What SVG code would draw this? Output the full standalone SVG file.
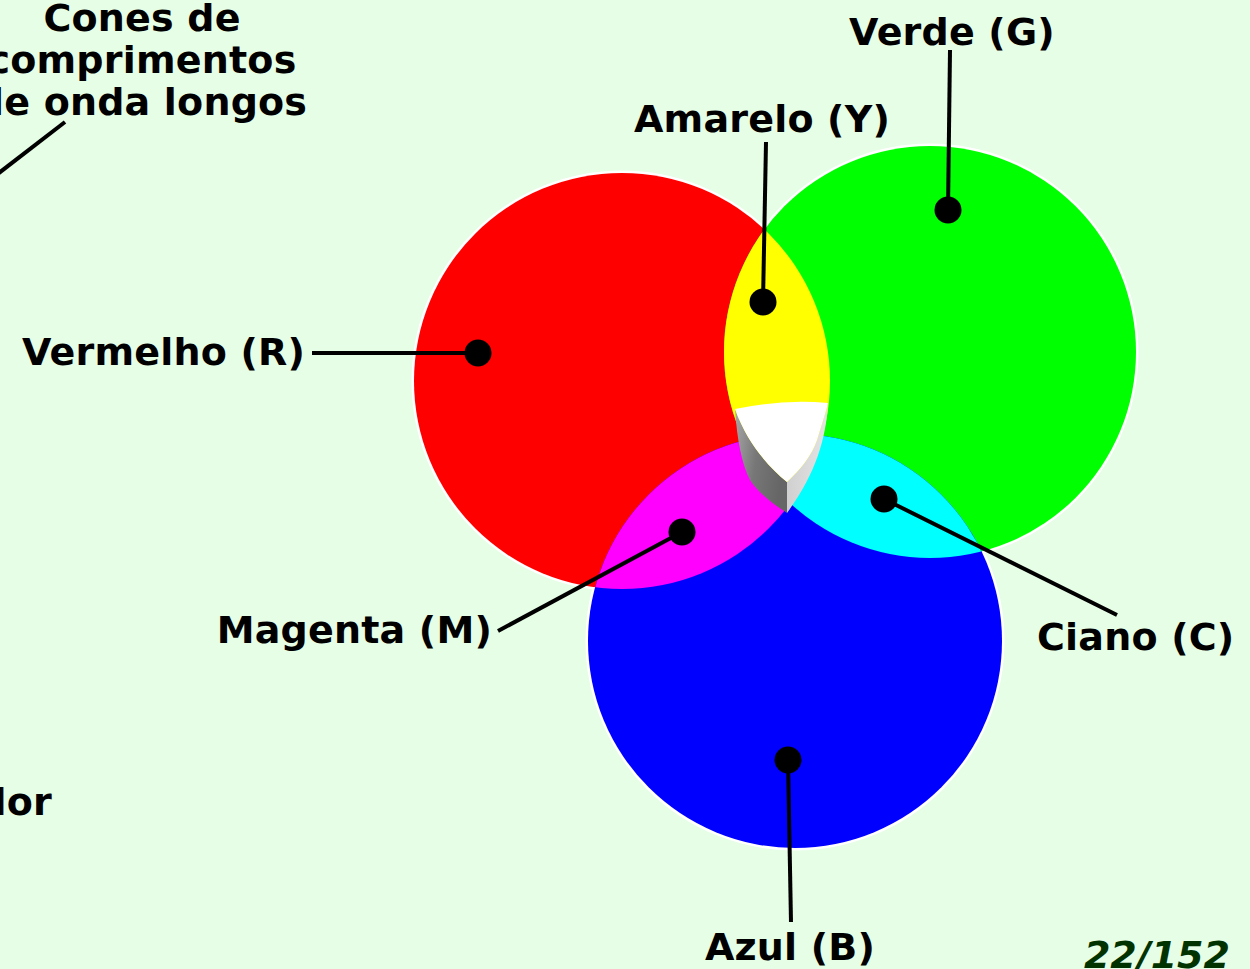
<svg xmlns="http://www.w3.org/2000/svg" width="1250" height="969" viewBox="0 0 1250 969">
<style>
.t{font-family:"DejaVu Sans","Liberation Sans",sans-serif;font-weight:bold;font-size:38px;fill:#000;letter-spacing:0.2px}
.ln{stroke:#000;stroke-width:4;fill:none}
.dot{fill:#000}
</style>
<defs>
<clipPath id="cR"><circle cx="622" cy="381" r="208"/></clipPath>
<clipPath id="cG"><circle cx="930" cy="352" r="206"/></clipPath>
<linearGradient id="gL" x1="0" y1="0" x2="1" y2="0.3">
<stop offset="0" stop-color="#a8a8a8"/><stop offset="0.5" stop-color="#777"/><stop offset="1" stop-color="#666"/>
</linearGradient>
<linearGradient id="gR" x1="0" y1="0" x2="1" y2="0">
<stop offset="0" stop-color="#d0d0d0"/><stop offset="1" stop-color="#e4e4e4"/>
</linearGradient>
</defs>
<rect width="1250" height="969" fill="#e6fde6"/>
<g id="halo" fill="#fff" stroke="#fff" stroke-width="5">
<circle cx="622" cy="381" r="208"/>
<circle cx="930" cy="352" r="206"/>
<circle cx="795" cy="641" r="207"/>
</g>
<g id="red"><circle cx="622" cy="381" r="208" fill="#ff0000"/></g>
<g id="green"><circle cx="930" cy="352" r="206" fill="#00ff00"/></g>
<g id="blue"><circle cx="795" cy="641" r="207" fill="#0000ff"/></g>
<g id="magenta" clip-path="url(#cR)"><circle cx="795" cy="641" r="207" fill="#ff00ff"/></g>
<g id="cyan" clip-path="url(#cG)"><circle cx="795" cy="641" r="207" fill="#00ffff"/></g>
<g id="yellow" clip-path="url(#cR)"><g clip-path="url(#cG)">
<rect x="690" y="200" width="180" height="400" fill="#ffff00"/>
</g></g>
<g id="white">
<path d="M735,409 C737,440 742,465 750,480 C760,495 775,505 787,513 L787,482 C770,468 748,445 735,409 Z" fill="url(#gL)"/>
<path d="M828,403 C826,440 815,475 787,513 L787,482 C800,470 812,455 817,440 C820,430 824,418 828,403 Z" fill="url(#gR)"/>
<path d="M735,409 Q782,399 828,403 C824,418 820,430 817,440 C812,455 800,470 787,482 C770,468 748,445 735,409 Z" fill="#fff"/>
</g>
<g id="connectors">
<line class="ln" x1="950" y1="50" x2="948" y2="210"/>
<line class="ln" x1="766" y1="142" x2="763" y2="302"/>
<line class="ln" x1="312" y1="353" x2="478" y2="353"/>
<line class="ln" x1="498" y1="631" x2="682" y2="532"/>
<line class="ln" x1="884" y1="499" x2="1117" y2="615"/>
<line class="ln" x1="788" y1="760" x2="791" y2="922"/>
<line class="ln" x1="65" y1="122" x2="-5" y2="176"/>
<circle class="dot" cx="948" cy="210" r="13.5"/>
<circle class="dot" cx="763" cy="302" r="13.5"/>
<circle class="dot" cx="478" cy="353" r="13.5"/>
<circle class="dot" cx="682" cy="532" r="13.5"/>
<circle class="dot" cx="884" cy="499" r="13.5"/>
<circle class="dot" cx="788" cy="760" r="13.5"/>
</g>
<g id="labels">
<text class="t" x="952" y="45" text-anchor="middle">Verde (G)</text>
<text class="t" x="762" y="132" text-anchor="middle">Amarelo (Y)</text>
<text class="t" x="305" y="365" text-anchor="end">Vermelho (R)</text>
<text class="t" x="492" y="643" text-anchor="end">Magenta (M)</text>
<text class="t" x="1037" y="650">Ciano (C)</text>
<text class="t" x="790" y="960" text-anchor="middle">Azul (B)</text>
<text class="t" x="142" y="31" text-anchor="middle">Cones de</text>
<text class="t" x="142" y="73" text-anchor="middle">comprimentos</text>
<text class="t" x="142" y="115" text-anchor="middle">de onda longos</text>
<text class="t" x="52" y="815" text-anchor="end">lor</text>
<text x="1230" y="968" text-anchor="end" style="font-family:'DejaVu Sans','Liberation Sans',sans-serif;font-weight:bold;font-style:italic;font-size:38px;fill:#003300">22/152</text>
</g>
</svg>
